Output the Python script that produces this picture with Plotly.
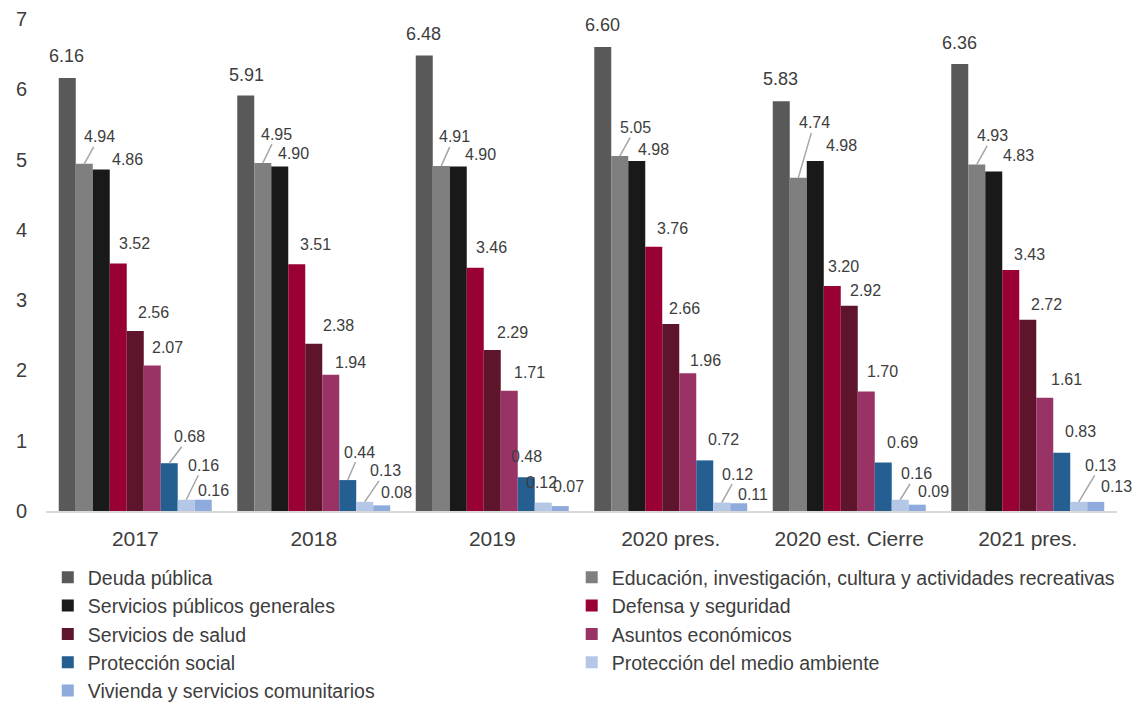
import plotly.graph_objects as go

# Gasto por función, % del PIB
categories = ["2017", "2018", "2019", "2020 pres.", "2020 est. Cierre", "2021 pres."]

series_names = [
    "Deuda pública",
    "Educación, investigación, cultura y actividades recreativas",
    "Servicios públicos generales",
    "Defensa y seguridad",
    "Servicios de salud",
    "Asuntos económicos",
    "Protección social",
    "Protección del medio ambiente",
    "Vivienda y servicios comunitarios",
]

deuda_publica = [6.16, 5.91, 6.48, 6.60, 5.83, 6.36]
educacion = [4.94, 4.95, 4.91, 5.05, 4.74, 4.93]
servicios_publicos = [4.86, 4.90, 4.90, 4.98, 4.98, 4.83]
defensa = [3.52, 3.51, 3.46, 3.76, 3.20, 3.43]
salud = [2.56, 2.38, 2.29, 2.66, 2.92, 2.72]
asuntos_economicos = [2.07, 1.94, 1.71, 1.96, 1.70, 1.61]
proteccion_social = [0.68, 0.44, 0.48, 0.72, 0.69, 0.83]
medio_ambiente = [0.16, 0.13, 0.12, 0.12, 0.16, 0.13]
vivienda = [0.16, 0.08, 0.07, 0.11, 0.09, 0.13]

series_values = [
    deuda_publica, educacion, servicios_publicos, defensa, salud,
    asuntos_economicos, proteccion_social, medio_ambiente, vivienda,
]

colors = [
    "#595959", "#7f7f7f", "#191919", "#990033", "#5e142b",
    "#993366", "#255e91", "#b4c7e7", "#8faadc",
]

# Label placement: (dx, dy) pixel offset of each value label from the top
# centre of its bar, and whether a leader line joins them.
label_offsets = [
    [(-1, -22), (1, -21), (-1, -22), (0, -22), (-1, -22), (0, -21)],
    [(15, -27), (14, -29), (13, -29), (16, -28.5), (16, -55), (16, -28.5)],
    [(26, -10), (14, -13), (22, -12), (17, -11), (26, -15), (25, -16)],
    [(16, -20), (19, -20), (16, -20), (19, -18), (11, -20), (19, -15.5)],
    [(18, -18.5), (25, -18), (20, -17.5), (14, -15.5), (16, -15), (19, -15.5)],
    [(15, -18), (20, -12.6), (20, -18.5), (18, -12.4), (16, -20.5), (22, -18)],
    [(20, -26.5), (12, -28), (0, -21), (19, -20.5), (19, -20.5), (19, -21)],
    [(17, -34.5), (21, -31), (-2, -20), (16, -28.5), (16, -26), (22, -36.5)],
    [(10, -9), (15, -13), (8, -20), (14, -9), (16, -13), (21, -15)],
]
leader_lines = [
    [False] * 6,
    [True] * 6,
    [False] * 6,
    [False] * 6,
    [False] * 6,
    [False] * 6,
    [True, True, False, False, False, False],
    [True, True, False, True, True, True],
    [False] * 6,
]

FONT = "Liberation Sans, Arial, sans-serif"
TEXT = "#3d3d3d"
BARGAP = 0.143

fig = go.Figure()
for k, (name, vals, col) in enumerate(zip(series_names, series_values, colors)):
    fig.add_trace(go.Bar(
        name=name, x=categories, y=vals,
        marker=dict(color=col, line=dict(width=0)),
        # legend entries alternate between a left and a right column
        legend="legend" if k % 2 == 0 else "legend2",
        hovertemplate="%{x}<br>" + name + ": %{y:.2f}<extra></extra>",
    ))

# value labels, anchored on each bar's slot within its category group
n_series = len(series_values)
slot = (1 - BARGAP) / n_series
annotations = []
for j, vals in enumerate(series_values):
    for i, v in enumerate(vals):
        xpos = i - (1 - BARGAP) / 2 + (j + 0.5) * slot
        dx, dy = label_offsets[j][i]
        size = 18 if j == 0 else 16
        common = dict(
            x=xpos, y=v, xref="x", yref="y", text=f"{v:.2f}",
            font=dict(family=FONT, size=size, color=TEXT),
        )
        if leader_lines[j][i]:
            annotations.append(dict(
                **common, showarrow=True, arrowhead=0, arrowwidth=1.5,
                arrowcolor="#a6a6a6", ax=dx, ay=dy, standoff=0,
            ))
        else:
            annotations.append(dict(
                **common, showarrow=False, xshift=dx, yshift=-dy,
            ))

legend_style = dict(
    orientation="v", xref="container", yref="container",
    y=0.2107, xanchor="left", yanchor="top",
    font=dict(family=FONT, size=19.5, color=TEXT),
    traceorder="normal", bgcolor="rgba(0,0,0,0)",
)

fig.update_layout(
    width=1135, height=707,
    margin=dict(l=45.5, r=18.3, t=18.5, b=196.3, autoexpand=False),
    paper_bgcolor="white", plot_bgcolor="white",
    barmode="group", bargap=BARGAP, bargroupgap=0,
    font=dict(family=FONT, color=TEXT),
    annotations=annotations,
    showlegend=True,
    legend=dict(**legend_style, x=0.0421),
    legend2=dict(**legend_style, x=0.5037),
    xaxis=dict(
        type="category", range=[-0.5, 5.5], automargin=False,
        showline=True, linecolor="#d9d9d9", linewidth=2,
        showgrid=False, ticks="", zeroline=False,
        tickfont=dict(family=FONT, size=21, color=TEXT),
        ticklabelstandoff=8,
    ),
    yaxis=dict(
        range=[0, 7], dtick=1, automargin=False,
        showgrid=False, showline=False, zeroline=False, ticks="",
        tickfont=dict(family=FONT, size=20, color=TEXT),
        ticklabelstandoff=18,
    ),
)

fig.write_html("out.html")
